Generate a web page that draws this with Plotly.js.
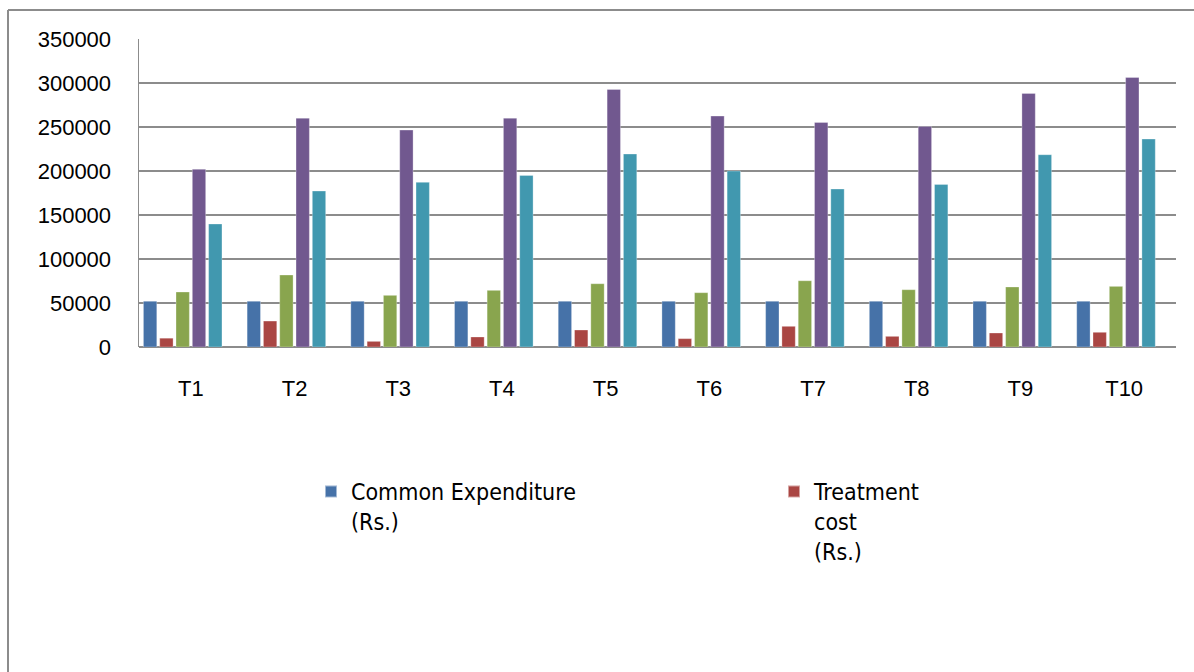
<!DOCTYPE html>
<html>
<head>
<meta charset="utf-8">
<script src="https://cdn.plot.ly/plotly-3.0.1.min.js"></script>
<style>html,body{margin:0;padding:0;background:#fff;}#chart{width:1194px;height:672px;}</style>
</head>
<body>
<div id="chart"></div>
<script>
var categories = ['T1','T2','T3','T4','T5','T6','T7','T8','T9','T10'];
var commonExpenditure = [52000,52000,52000,52000,52000,52000,52000,52000,52000,52000];
var treatmentCost = [10000,29500,6400,11400,19300,9500,23500,12100,15900,16700];
var series3 = [62500,81800,58700,64400,71900,61700,75300,65100,68200,68900];
var series4 = [202000,260000,246500,260000,292700,262400,255200,250700,288200,306300];
var series5 = [139800,177200,187100,195000,219300,200000,179500,184800,218500,236300];
var series6 = [null,null,null,null,null,null,null,null,null,null];
var seriesNames = ['Common Expenditure<br>(Rs.)','Treatment<br>cost<br>(Rs.)','Series 3','Series 4','Series 5','Series 6'];
var yTicks = [0,50000,100000,150000,200000,250000,300000,350000];

var colors = ['#4672A8','#AA4643','#89A54E','#71588F','#4198AF','#DB843D'];
var allSeries = [commonExpenditure, treatmentCost, series3, series4, series5, series6];
var legendIds = ['legend','legend2'];

var traces = allSeries.map(function(vals, i){
  var t = {
    type: 'bar',
    x: categories,
    y: vals,
    name: seriesNames[i],
    showlegend: i < 2,
    marker: {color: colors[i], line: {color: 'rgba(255,255,255,0.5)', width: 0.6}},
    hoverinfo: 'x+y'
  };
  if (i < 2) t.legend = legendIds[i];
  return t;
});

var L = 139, R = 18, T = 39, B = 325;
var pw = 1194 - L - R, ph = 672 - T - B;
function px(x){ return (x - L) / pw; }
function py(y){ return 1 - (y - T) / ph; }

var legendFont = {family: 'Liberation Sans Narrow, DejaVu Sans Condensed, Arial Narrow, sans-serif', size: 23, color: '#000'};
function legendAt(x, y){
  return {
    orientation: 'v',
    x: px(x), xanchor: 'left',
    y: py(y), yanchor: 'top',
    valign: 'top',
    font: legendFont,
    bgcolor: 'rgba(0,0,0,0)',
    itemsizing: 'constant'
  };
}

var layout = {
  width: 1194, height: 672,
  margin: {l: L, r: R, t: T, b: B, pad: 0},
  paper_bgcolor: '#ffffff',
  plot_bgcolor: '#ffffff',
  barmode: 'group',
  bargap: 0.057,
  bargroupgap: 0.18,
  font: {family: 'Liberation Sans, Arial, sans-serif', color: '#000000', size: 22},
  xaxis: {
    type: 'category',
    showgrid: false,
    showline: false,
    ticks: '',
    ticklabelstandoff: 26,
    tickfont: {size: 22},
    zeroline: false
  },
  yaxis: {
    range: [0, 350000],
    tickvals: yTicks,
    tickformat: 'd',
    showgrid: true,
    gridcolor: '#8c8c8c',
    gridwidth: 1.5,
    showline: true,
    linecolor: '#8c8c8c',
    linewidth: 1.5,
    zeroline: true,
    zerolinecolor: '#8c8c8c',
    zerolinewidth: 2,
    ticks: '',
    ticklabelstandoff: 22,
    tickfont: {size: 22}
  },
  legend: legendAt(311, 470),
  legend2: legendAt(774, 470),
  shapes: [
    {type: 'line', xref: 'paper', yref: 'paper', x0: px(8), x1: px(8), y0: py(10), y1: py(680), line: {color: '#8c8c8c', width: 2}},
    {type: 'line', xref: 'paper', yref: 'paper', x0: px(8), x1: px(1200), y0: py(10), y1: py(10), line: {color: '#8c8c8c', width: 2}}
  ]
};

Plotly.newPlot('chart', traces, layout, {displayModeBar: false, staticPlot: true});
</script>
</body>
</html>
